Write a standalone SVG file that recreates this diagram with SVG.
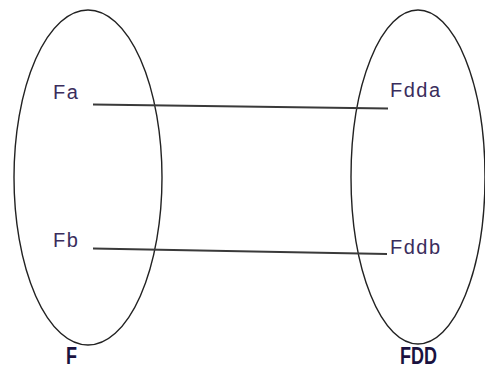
<svg xmlns="http://www.w3.org/2000/svg" width="485" height="372" viewBox="0 0 485 372">
<style>
.set{fill:none;stroke:#222;stroke-width:1.4}
.lbl{font-family:"Liberation Sans",Arial,sans-serif;font-size:20px;letter-spacing:1.5px;fill:#3a2d5c}
.ttl{font-family:"Liberation Sans",Arial,sans-serif;font-size:18px;font-weight:bold;fill:#1a1240}
.con{stroke:#3a3a3a;stroke-width:2;fill:none}
</style>
<rect width="485" height="372" fill="#fff"/>
<g id="F">
<ellipse class="set" cx="88" cy="177.5" rx="74" ry="167.5"/>
<text class="lbl" x="53" y="99">Fa</text>
<text class="lbl" x="53" y="247">Fb</text>
<text class="ttl" transform="translate(66,364) scale(1,1.3)">F</text>
</g>
<g id="FDD">
<ellipse class="set" cx="418" cy="177" rx="67" ry="167"/>
<text class="lbl" x="390" y="97">Fdda</text>
<text class="lbl" x="390" y="254">Fddb</text>
<text class="ttl" transform="translate(400,364) scale(1,1.3)">FDD</text>
</g>
<g id="connectors">
<line class="con" x1="93" y1="104.5" x2="388" y2="108.5"/>
<line class="con" x1="93" y1="248.5" x2="387" y2="254"/>
</g>
</svg>
